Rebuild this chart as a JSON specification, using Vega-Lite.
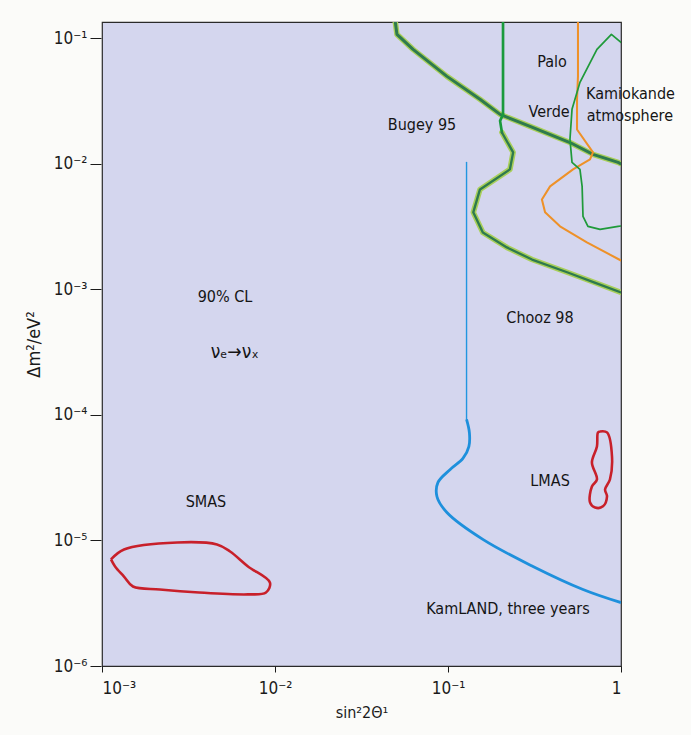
{
  "$schema": "https://vega.github.io/schema/vega-lite/v6.json",
  "autosize": "none",
  "width": 519,
  "height": 644,
  "padding": {"left": 102, "top": 22, "right": 70, "bottom": 69},
  "background": "#fbfbf9",
  "config": {
    "view": {"fill": "#d4d6ee", "stroke": "#2a2a2a", "strokeWidth": 1.2},
    "axis": {"labelFont": "DejaVu Sans Condensed, Roboto, sans-serif", "titleFont": "DejaVu Sans Condensed, Roboto, sans-serif", "labelColor": "#1a1a1a", "titleColor": "#1a1a1a", "tickColor": "#1a1a1a", "domainColor": "#1a1a1a", "grid": false, "labelFontSize": 17, "titleFontSize": 16, "titleFontWeight": "normal"}
  },
  "datasets": {
    "curves": [
      {"s": "Palo Verde", "i": 0, "x": 0.0494, "y": 0.14},
      {"s": "Palo Verde", "i": 1, "x": 0.0507, "y": 0.1076},
      {"s": "Palo Verde", "i": 2, "x": 0.0628, "y": 0.0817},
      {"s": "Palo Verde", "i": 3, "x": 0.0986, "y": 0.0498},
      {"s": "Palo Verde", "i": 4, "x": 0.153, "y": 0.0327},
      {"s": "Palo Verde", "i": 5, "x": 0.2, "y": 0.0248},
      {"s": "Palo Verde", "i": 6, "x": 0.298, "y": 0.0199},
      {"s": "Palo Verde", "i": 7, "x": 0.507, "y": 0.0148},
      {"s": "Palo Verde", "i": 8, "x": 0.689, "y": 0.0119},
      {"s": "Palo Verde", "i": 9, "x": 0.962, "y": 0.01028},
      {"s": "Palo Verde", "i": 10, "x": 1.0, "y": 0.01},
      {"s": "Bugey 95 upper", "i": 0, "x": 0.208, "y": 0.14},
      {"s": "Bugey 95 upper", "i": 1, "x": 0.208, "y": 0.0248},
      {"s": "Bugey 95 upper", "i": 2, "x": 0.2, "y": 0.022},
      {"s": "Bugey 95 upper", "i": 3, "x": 0.205, "y": 0.0178},
      {"s": "Bugey 95", "i": 0, "x": 0.205, "y": 0.0178},
      {"s": "Bugey 95", "i": 1, "x": 0.238, "y": 0.01235},
      {"s": "Bugey 95", "i": 2, "x": 0.228, "y": 0.00904},
      {"s": "Bugey 95", "i": 3, "x": 0.153, "y": 0.00626},
      {"s": "Bugey 95", "i": 4, "x": 0.14, "y": 0.00411},
      {"s": "Bugey 95", "i": 5, "x": 0.159, "y": 0.00284},
      {"s": "Bugey 95", "i": 6, "x": 0.219, "y": 0.00216},
      {"s": "Bugey 95", "i": 7, "x": 0.306, "y": 0.00173},
      {"s": "Bugey 95", "i": 8, "x": 0.488, "y": 0.00137},
      {"s": "Bugey 95", "i": 9, "x": 0.698, "y": 0.00114},
      {"s": "Bugey 95", "i": 10, "x": 1.0, "y": 0.000946},
      {"s": "Chooz 98", "i": 0, "x": 0.564, "y": 0.14},
      {"s": "Chooz 98", "i": 1, "x": 0.564, "y": 0.0498},
      {"s": "Chooz 98", "i": 2, "x": 0.557, "y": 0.0327},
      {"s": "Chooz 98", "i": 3, "x": 0.557, "y": 0.0188},
      {"s": "Chooz 98", "i": 4, "x": 0.689, "y": 0.01235},
      {"s": "Chooz 98", "i": 5, "x": 0.662, "y": 0.01086},
      {"s": "Chooz 98", "i": 6, "x": 0.528, "y": 0.00904},
      {"s": "Chooz 98", "i": 7, "x": 0.389, "y": 0.00662},
      {"s": "Chooz 98", "i": 8, "x": 0.349, "y": 0.00521},
      {"s": "Chooz 98", "i": 9, "x": 0.364, "y": 0.00411},
      {"s": "Chooz 98", "i": 10, "x": 0.444, "y": 0.00318},
      {"s": "Chooz 98", "i": 11, "x": 0.635, "y": 0.00237},
      {"s": "Chooz 98", "i": 12, "x": 1.0, "y": 0.0017},
      {"s": "Kamiokande", "i": 0, "x": 1.0, "y": 0.0929},
      {"s": "Kamiokande", "i": 1, "x": 0.88, "y": 0.1076},
      {"s": "Kamiokande", "i": 2, "x": 0.726, "y": 0.0817},
      {"s": "Kamiokande", "i": 3, "x": 0.579, "y": 0.0446},
      {"s": "Kamiokande", "i": 4, "x": 0.521, "y": 0.0272},
      {"s": "Kamiokande", "i": 5, "x": 0.507, "y": 0.0157},
      {"s": "Kamiokande", "i": 6, "x": 0.521, "y": 0.01028},
      {"s": "Kamiokande", "i": 7, "x": 0.579, "y": 0.00904},
      {"s": "Kamiokande", "i": 8, "x": 0.596, "y": 0.00662},
      {"s": "Kamiokande", "i": 9, "x": 0.603, "y": 0.00382},
      {"s": "Kamiokande", "i": 10, "x": 0.644, "y": 0.00318},
      {"s": "Kamiokande", "i": 11, "x": 0.757, "y": 0.00301},
      {"s": "Kamiokande", "i": 12, "x": 0.962, "y": 0.00318},
      {"s": "Kamiokande", "i": 13, "x": 1.0, "y": 0.0032},
      {"s": "KamLAND upper", "i": 0, "x": 0.128, "y": 0.01028},
      {"s": "KamLAND upper", "i": 1, "x": 0.128, "y": 0.000092},
      {"s": "KamLAND", "i": 0, "x": 0.128, "y": 0.000092},
      {"s": "KamLAND", "i": 1, "x": 0.133, "y": 0.000072},
      {"s": "KamLAND", "i": 2, "x": 0.132, "y": 0.0000560},
      {"s": "KamLAND", "i": 3, "x": 0.122, "y": 0.0000450},
      {"s": "KamLAND", "i": 4, "x": 0.103, "y": 0.0000368},
      {"s": "KamLAND", "i": 5, "x": 0.0875, "y": 0.000029},
      {"s": "KamLAND", "i": 6, "x": 0.0863, "y": 0.0000224},
      {"s": "KamLAND", "i": 7, "x": 0.0986, "y": 0.0000167},
      {"s": "KamLAND", "i": 8, "x": 0.159, "y": 0.0000102},
      {"s": "KamLAND", "i": 9, "x": 0.31, "y": 0.00000621},
      {"s": "KamLAND", "i": 10, "x": 0.603, "y": 0.00000407},
      {"s": "KamLAND", "i": 11, "x": 1.0, "y": 0.0000032},
      {"s": "LMAS", "i": 0, "x": 0.757, "y": 0.0000739},
      {"s": "LMAS", "i": 1, "x": 0.83, "y": 0.0000726},
      {"s": "LMAS", "i": 2, "x": 0.887, "y": 0.0000467},
      {"s": "LMAS", "i": 3, "x": 0.863, "y": 0.0000306},
      {"s": "LMAS", "i": 4, "x": 0.809, "y": 0.0000255},
      {"s": "LMAS", "i": 5, "x": 0.83, "y": 0.0000224},
      {"s": "LMAS", "i": 6, "x": 0.787, "y": 0.0000187},
      {"s": "LMAS", "i": 7, "x": 0.708, "y": 0.0000183},
      {"s": "LMAS", "i": 8, "x": 0.662, "y": 0.0000201},
      {"s": "LMAS", "i": 9, "x": 0.679, "y": 0.0000269},
      {"s": "LMAS", "i": 10, "x": 0.726, "y": 0.0000306},
      {"s": "LMAS", "i": 11, "x": 0.679, "y": 0.0000419},
      {"s": "LMAS", "i": 12, "x": 0.726, "y": 0.0000561},
      {"s": "LMAS", "i": 13, "x": 0.736, "y": 0.0000726},
      {"s": "LMAS", "i": 14, "x": 0.757, "y": 0.0000739},
      {"s": "SMAS", "i": 0, "x": 0.001127, "y": 0.00000706},
      {"s": "SMAS", "i": 1, "x": 0.00134, "y": 0.00000848},
      {"s": "SMAS", "i": 2, "x": 0.00272, "y": 0.00000964},
      {"s": "SMAS", "i": 3, "x": 0.00462, "y": 0.00000929},
      {"s": "SMAS", "i": 4, "x": 0.0055, "y": 0.00000817},
      {"s": "SMAS", "i": 5, "x": 0.00698, "y": 0.00000621},
      {"s": "SMAS", "i": 6, "x": 0.00935, "y": 0.00000462},
      {"s": "SMAS", "i": 7, "x": 0.00887, "y": 0.00000385},
      {"s": "SMAS", "i": 8, "x": 0.00698, "y": 0.00000372},
      {"s": "SMAS", "i": 9, "x": 0.00364, "y": 0.00000385},
      {"s": "SMAS", "i": 10, "x": 0.00216, "y": 0.00000407},
      {"s": "SMAS", "i": 11, "x": 0.00151, "y": 0.0000043},
      {"s": "SMAS", "i": 12, "x": 0.00134, "y": 0.00000516},
      {"s": "SMAS", "i": 13, "x": 0.00119, "y": 0.00000621},
      {"s": "SMAS", "i": 14, "x": 0.001127, "y": 0.00000706}
    ],
    "labels": [
      {"t": "Palo", "x": 0.399, "y": 0.0646},
      {"t": "Verde", "x": 0.384, "y": 0.0258},
      {"t": "Kamiokande", "x": 1.135, "y": 0.0358},
      {"t": "atmosphere", "x": 1.125, "y": 0.0239},
      {"t": "Bugey 95", "x": 0.0708, "y": 0.0203},
      {"t": "90% CL", "x": 0.00514, "y": 0.000863},
      {"t": "Chooz 98", "x": 0.34, "y": 0.000593},
      {"t": "LMAS", "x": 0.389, "y": 0.0000295},
      {"t": "SMAS", "x": 0.00399, "y": 0.0000201},
      {"t": "KamLAND, three years", "x": 0.222, "y": 0.00000287}
    ],
    "nu": [
      {"t": "νₑ→νₓ", "x": 0.00585, "y": 0.000318}
    ]
  },
  "encoding": {
    "x": {"field": "x", "type": "quantitative", "scale": {"type": "log", "domain": [0.001, 1], "nice": false, "zero": false},
      "axis": {"values": [0.001, 0.01, 0.1, 1], "title": "sin²2Θ¹", "tickSize": 6, "labelPadding": 8, "titlePadding": 8, "domain": false,
        "labelExpr": "datum.value >= 0.9 ? '1' : datum.value >= 0.09 ? '10⁻¹' : datum.value >= 0.009 ? '10⁻²' : '10⁻³'"}},
    "y": {"field": "y", "type": "quantitative", "scale": {"type": "log", "domain": [0.000001, 0.135], "nice": false, "zero": false},
      "axis": {"values": [0.000001, 0.00001, 0.0001, 0.001, 0.01, 0.1], "title": "Δm²/eV²", "titleFontSize": 18, "tickSize": 11, "offset": 1, "domain": false, "labelPadding": 3, "titlePadding": 10,
        "labelExpr": "datum.value >= 0.09 ? '10⁻¹' : datum.value >= 0.009 ? '10⁻²' : datum.value >= 0.0009 ? '10⁻³' : datum.value >= 0.00009 ? '10⁻⁴' : datum.value >= 0.000009 ? '10⁻⁵' : '10⁻⁶'"}}
  },
  "layer": [
    {
      "data": {"name": "curves"},
      "transform": [{"filter": "datum.s === 'Palo Verde' || datum.s === 'Bugey 95'"}],
      "mark": {"type": "line", "clip": true, "strokeWidth": 5.5, "color": "#a9cf5a", "strokeJoin": "round", "strokeCap": "round"},
      "encoding": {"detail": {"field": "s"}, "order": {"field": "i", "type": "quantitative"}}
    },
    {
      "data": {"name": "curves"},
      "transform": [{"filter": "datum.s !== 'KamLAND' && datum.s !== 'SMAS' && datum.s !== 'LMAS'"}],
      "mark": {"type": "line", "clip": true, "strokeJoin": "round", "strokeCap": "round"},
      "encoding": {
        "detail": {"field": "s"},
        "order": {"field": "i", "type": "quantitative"},
        "color": {"field": "s", "type": "nominal", "legend": null,
          "scale": {"domain": ["Palo Verde", "Bugey 95 upper", "Bugey 95", "Chooz 98", "Kamiokande", "KamLAND upper"],
                    "range": ["#2e7a4e", "#1a9a3c", "#2e7a4e", "#ee9128", "#1f9a3a", "#2196e0"]}},
        "strokeWidth": {"field": "s", "type": "nominal", "legend": null,
          "scale": {"domain": ["Palo Verde", "Bugey 95 upper", "Bugey 95", "Chooz 98", "Kamiokande", "KamLAND upper"],
                    "range": [3, 1.4, 3, 2.2, 3.2, 1.6]}}
      }
    },
    {
      "data": {"name": "curves"},
      "transform": [{"filter": "datum.s === 'KamLAND'"}],
      "mark": {"type": "line", "clip": true, "interpolate": "catmull-rom", "strokeWidth": 2.8, "color": "#1e90dc"},
      "encoding": {"order": {"field": "i", "type": "quantitative"}}
    },
    {
      "data": {"name": "curves"},
      "transform": [{"filter": "datum.s === 'SMAS' || datum.s === 'LMAS'"}],
      "mark": {"type": "line", "clip": true, "interpolate": "catmull-rom", "strokeWidth": 2.6, "color": "#c8202a"},
      "encoding": {"detail": {"field": "s"}, "order": {"field": "i", "type": "quantitative"}}
    },
    {
      "data": {"name": "labels"},
      "mark": {"type": "text", "font": "DejaVu Sans Condensed, Roboto, sans-serif", "fontSize": 16, "color": "#151515", "align": "center", "baseline": "middle"},
      "encoding": {"text": {"field": "t"}}
    },
    {
      "data": {"name": "nu"},
      "mark": {"type": "text", "font": "DejaVu Sans Condensed, Roboto, sans-serif", "fontSize": 19, "color": "#151515", "align": "center", "baseline": "middle"},
      "encoding": {"text": {"field": "t"}}
    }
  ]
}
